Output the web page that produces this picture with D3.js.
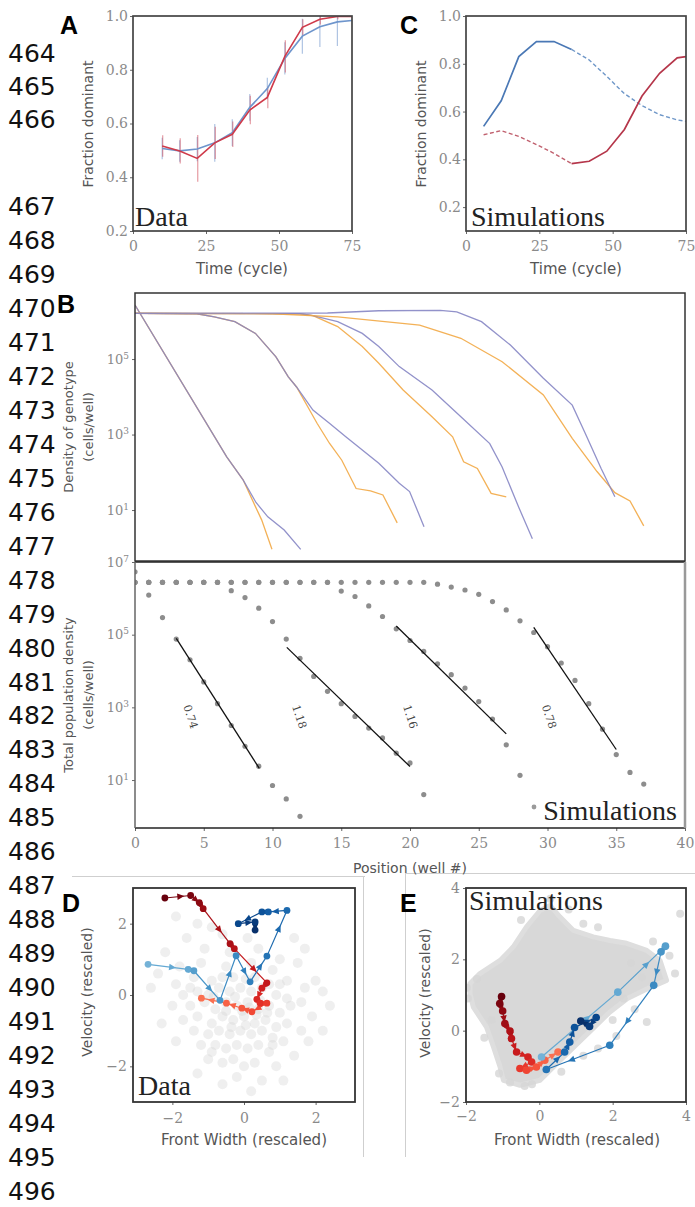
<!DOCTYPE html>
<html><head><meta charset="utf-8">
<script src="https://cdn.jsdelivr.net/npm/d3@7"></script>
<style>body{margin:0;background:#fff}svg{display:block}</style>
</head><body>
<svg id="fig" width="695" height="1207"></svg>
<script>
// ================= DATA =================
const lineNumbers = d3.range(464, 497);

// Panel A (data)
const timeA = [10,16,22,28,34,40,46,52,58,64,70,75];
const redA = [0.516,0.498,0.470,0.528,0.560,0.650,0.697,0.850,0.958,0.988,0.998,0.998];
const redErrA = [0.04,0.047,0.087,0.06,0.047,0.053,0.04,0.06,0.03,0.02,0.01,0];
const blueA = [0.507,0.498,0.505,0.528,0.566,0.660,0.730,0.842,0.925,0.960,0.978,0.983];
const blueErrA = [0.04,0.04,0.045,0.07,0.05,0.05,0.04,0.06,0.065,0.075,0.09,0];

// Panel C (simulations)
const timeC = [6,12,18,24,30,36,42,48,54,60,66,72,75];
const blueC = [0.538,0.645,0.830,0.893,0.893,0.860,0.816,0.747,0.675,0.625,0.587,0.565,0.559];
const redC = [0.503,0.520,0.496,0.462,0.425,0.382,0.392,0.434,0.525,0.665,0.760,0.825,0.830];
const switchTimeC = 36;

const fracTicks = [0.2,0.4,0.6,0.8,1.0];
const timeTicks = [0,25,50,75];

// Panel B top: genotype density profiles, [well position, log10 density]
const purple1 = [[0,6.43],[6.67,2.41],[7.86,1.80],[8.8,1.2],[9.66,0.82],[10.85,0.47],[12.05,-0.04]];
const orange1 = [[0,6.43],[6.67,2.41],[7.86,1.80],[8.76,1.09],[9.21,0.74],[9.96,-0.04]];
const purple2 = [[0,6.21],[4.5,6.2],[5.77,6.12],[7.26,5.99],[8.76,5.68],[10.25,5.06],[11.15,4.53],[11.75,4.26],[12.94,3.65],[14.14,3.30],[15.33,2.94],[17.73,2.24],[19.22,1.71],[19.97,1.49],[21.02,0.56]];
const orange2 = [[0,6.21],[4.5,6.2],[5.77,6.12],[7.26,5.99],[8.76,5.68],[10.25,5.06],[11.15,4.53],[11.75,4.26],[13.24,3.30],[14.14,2.77],[15.04,2.32],[16.08,1.57],[17.13,1.51],[18.03,1.40],[19.07,0.66]];
const purple3 = [[0,6.21],[12.0,6.2],[12.94,6.15],[14.74,5.99],[16.53,5.68],[17.73,5.33],[19.22,4.80],[21.6,4.18],[23.7,3.47],[25.8,2.76],[26.7,2.14],[27.9,1.08],[28.9,0.24]];
const orange3 = [[0,6.21],[12.0,6.2],[12.94,6.15],[14.74,5.86],[16.53,5.33],[17.73,4.89],[19.5,4.18],[21.6,3.47],[23.1,2.94],[23.9,2.28],[24.9,2.10],[25.9,1.44],[27.0,1.35]];
const purple4 = [[0,6.21],[14,6.22],[17.73,6.28],[22.2,6.29],[23.4,6.25],[25.2,5.99],[27.3,5.37],[29.7,4.49],[31.8,3.78],[32.7,3.07],[33.9,2.10],[34.9,1.35]];
const orange4 = [[0,6.21],[10,6.2],[14.74,6.12],[20.7,5.90],[23.7,5.55],[26.7,4.93],[29.7,4.05],[31.8,2.90],[33.6,2.02],[34.9,1.46],[36.0,1.24],[37.0,0.58]];

// Panel B bottom: total density per well (log10), index = well number
const total1 = [6.73,6.09,5.47,4.88,4.31,3.70,3.10,2.50,1.93,1.38,0.85,0.48,0.0];
const total2 = [6.44,6.44,6.44,6.44,6.44,6.44,6.44,6.21,6.02,5.73,5.36,4.88,4.35,3.85,3.44,3.10,2.75,2.43,2.16,1.74,1.47,0.60];
const total3 = [6.44,6.44,6.44,6.44,6.44,6.44,6.44,6.44,6.44,6.44,6.44,6.44,6.44,6.44,6.44,6.20,6.05,5.79,5.50,5.16,4.84,4.54,4.20,3.90,3.53,3.16,2.68,1.97,1.13];
const total4 = [6.44,6.44,6.44,6.44,6.44,6.44,6.44,6.44,6.44,6.44,6.44,6.44,6.44,6.44,6.44,6.44,6.44,6.44,6.44,6.44,6.44,6.44,6.39,6.31,6.23,6.11,5.91,5.68,5.38,5.06,4.67,4.22,3.74,3.10,2.40,1.70,1.21,0.89];
// exponential fits
const fitX0 = [3, 11.04, 19, 29];
const fitL0 = [4.90, 4.65, 5.24, 5.20];
const fitX1 = [9.04, 20, 27, 35];
const fitL1 = [1.32, 1.37, 2.27, 1.84];
const fitLabels = ["0.74","1.18","1.16","0.78"];
const fitLabelX = [4.03, 11.94, 20.0, 30.1];
const fitLabelL = [2.74, 2.74, 2.74, 2.74];
const wellTicks = [0,5,10,15,20,25,30,35,40];
const logTicksTop = [1,3,5];
const logTicksBottom = [1,3,5,7];

// Panel D (data): background cloud + trajectories
const cloudD = [[-1.9,2.2],[-1.3,2.0],[-0.9,1.9],[-1.6,1.6],[-0.6,1.7],[0.1,1.6],[1.4,1.6],[1.7,1.3],[-2.2,1.2],[-1.1,1.3],[-0.4,1.2],[0.4,1.3],[1.0,1.0],[1.5,0.9],[-2.4,0.6],[-1.8,0.8],[-1.2,0.9],[-0.5,0.8],[0.2,0.9],[0.8,0.7],[2.0,0.4],[-2.6,0.2],[-1.9,0.3],[-1.4,0.5],[-0.9,0.4],[-0.3,0.5],[0.3,0.5],[0.7,0.3],[1.2,0.4],[1.7,0.2],[2.2,0.1],
[-1.7,0.0],[-1.3,0.1],[-1.0,0.0],[-0.7,0.2],[-0.4,0.1],[-0.1,0.2],[0.2,0.1],[0.5,0.2],[0.9,0.0],[1.2,-0.1],[1.6,-0.2],[2.4,-0.3],
[-2.0,-0.3],[-1.5,-0.3],[-1.1,-0.2],[-0.8,-0.4],[-0.5,-0.2],[-0.2,-0.3],[0.1,-0.2],[0.4,-0.4],[0.7,-0.3],[1.0,-0.5],[1.3,-0.3],[1.9,-0.6],
[-1.7,-0.7],[-1.3,-0.6],[-0.9,-0.8],[-0.6,-0.6],[-0.3,-0.7],[0.0,-0.6],[0.3,-0.8],[0.6,-0.7],[0.9,-0.9],[1.2,-0.8],[1.6,-1.0],
[-1.4,-1.0],[-1.0,-1.1],[-0.7,-1.0],[-0.4,-1.1],[-0.1,-1.0],[0.2,-1.1],[0.5,-1.0],[0.8,-1.2],[1.1,-1.3],
[-1.2,-1.4],[-0.8,-1.4],[-0.5,-1.5],[-0.2,-1.4],[0.1,-1.5],[0.4,-1.4],[0.7,-1.6],[1.4,-1.7],
[-1.0,-1.8],[-0.6,-1.9],[-0.3,-1.8],[0.0,-2.0],[0.3,-1.9],[0.9,-2.0],[-0.2,-2.3],[0.5,-2.4],[-0.6,-2.5],[0.2,-2.7],[1.1,-2.4],[-1.3,-2.2],[1.8,-1.3],[2.2,-1.0],[-2.3,-0.8],[-1.9,-1.3],
[-0.5,-0.45],[-0.05,-0.45],[0.35,-0.55],[0.15,-0.35],[-0.35,-0.9],[0.05,-0.85],[0.45,-0.15],[-0.85,-0.05],[-0.25,-0.05],[0.65,-0.5],[0.05,0.45],[-0.6,0.5],[1.0,0.3],[-1.5,0.2],[0.8,-1.4],[-0.9,-1.6]];
const trajRedD = [[-2.21,2.72],[-1.49,2.79],[-1.25,2.59],[-1.14,2.42],[-0.39,1.44],[-0.27,1.30],[0.64,0.34],[0.50,0.19],[0.36,-0.12],[0.45,-0.23],[0.64,-0.23],[0.22,-0.47],[-0.06,-0.37],[-0.49,-0.23],[-1.19,-0.09]];
const trajBlueD = [[-2.68,0.86],[-1.56,0.72],[-1.40,0.68],[-0.67,-0.15],[-0.22,1.10],[0.17,0.37],[0.64,1.09],[1.20,2.37],[0.68,2.33],[0.50,2.33],[-0.16,2.0],[0.31,2.05],[0.31,1.82]];
const ticksD = [-2,0,2];

// Panel E (simulations): background cloud outline + outlying points + trajectories
const cloudOutlineE = [[-1.89,1.32],[-1.62,1.6],[-1.07,1.97],[-0.71,2.35],[-0.35,2.91],[0.02,3.37],[0.29,3.51],[0.56,3.19],[0.93,2.81],[1.47,2.63],[1.93,2.53],[2.38,2.45],[2.93,2.25],[3.29,1.97],[3.47,1.41],[3.0,1.2],[2.4,0.9],[1.9,0.5],[1.5,0.1],[1.0,-0.4],[0.5,-0.9],[0.02,-1.39],[-0.53,-1.53],[-0.98,-1.39],[-1.07,-1.02],[-1.25,-0.46],[-1.44,0.1],[-1.8,0.66],[-1.89,1.04]];
const cloudE = [[3.84,3.28],[3.7,1.6],[2.93,0.24],[2.5,1.9],[2.8,1.5],[2.3,0.9],[-1.7,1.45],[-1.3,0.3],[-0.8,-1.45],[-0.2,-1.5],[0.6,-1.15],[1.2,3.0],[0.8,3.4],[-0.5,3.1],[1.6,2.9],[3.1,2.5],[3.55,2.1],[2.1,-0.15],[1.6,-0.5],[-1.95,0.9],[-1.5,-0.2],[-1.1,-1.2],[0.3,3.7],[2.6,0.6],[2.0,0.3],[1.2,-0.7],[-0.4,-1.55],[-1.98,1.2]];
const trajRedE = [[-1.03,0.96],[-1.08,0.76],[-1.0,0.55],[-0.94,0.20],[-0.80,-0.01],[-0.76,-0.22],[-0.62,-0.60],[-0.31,-0.74],[-0.21,-0.88],[-0.53,-1.06],[-0.35,-1.11],[-0.08,-1.02],[0.15,-0.83],[0.51,-0.60]];
const trajBlueE = [[0.06,-0.74],[2.14,1.08],[3.44,2.37],[3.32,2.21],[3.12,1.27],[1.92,-0.41],[0.19,-1.09],[0.69,-0.60],[0.83,-0.32],[0.96,0.09],[1.55,0.37],[1.37,0.12],[1.13,0.27]];
const ticksE = [-2,0,2,4];

// ================= DRAWING =================
const svg = d3.select("#fig");
svg.append("rect").attr("width",695).attr("height",1207).attr("fill","#fff");
const SERIF_TICK = "DejaVu Serif", SANS = "DejaVu Sans";
const TICKCOL = "#8a8a8a", LABCOL = "#555";

// line numbers
const lnEarly = d3.scaleLinear().domain([464,466]).range([62,128]);
const lnLate = d3.scaleLinear().domain([467,496]).range([215,1200]);
svg.append("g").selectAll("text").data(lineNumbers).join("text")
  .attr("x",8).attr("y",d => d < 467 ? lnEarly(d) : lnLate(d))
  .attr("font-family",SANS).attr("font-size",25).attr("fill","#111").text(d => d);

// faint separator lines of the figure
const sep = svg.append("g").attr("stroke","#cfcfcf").attr("stroke-width",1).attr("fill","none");
sep.append("line").attr("x1",72).attr("x2",365).attr("y1",876.5).attr("y2",876.5);
sep.append("line").attr("x1",363.5).attr("x2",363.5).attr("y1",876).attr("y2",1157);
sep.append("line").attr("x1",405).attr("x2",695).attr("y1",873.5).attr("y2",873.5);
sep.append("line").attr("x1",405.5).attr("x2",405.5).attr("y1",873).attr("y2",1157);

function panelLetter(t,x,y){
  svg.append("text").attr("x",x).attr("y",y).text(t)
    .attr("font-family","Liberation Sans").attr("font-weight","bold").attr("font-size",25).attr("fill","#000");
}
function styleAxis(g, size){
  g.select(".domain").remove();
  g.selectAll(".tick line").attr("stroke","#666");
  g.selectAll(".tick text").attr("font-family",SERIF_TICK).attr("font-size",size||14).attr("fill",TICKCOL);
}
function frame(x0,x1,y0,y1,col,w){
  svg.append("rect").attr("x",x0).attr("y",y0).attr("width",x1-x0).attr("height",y1-y0)
    .attr("fill","none").attr("stroke",col||"#444").attr("stroke-width",w||1.7);
}
function vLabel(t,x,y,size){
  svg.append("text").attr("transform",`translate(${x},${y}) rotate(-90)`).attr("text-anchor","middle")
    .attr("dominant-baseline","central").attr("font-family",SANS).attr("font-size",size||14).attr("fill",LABCOL).text(t);
}
function hLabel(t,x,y,size){
  svg.append("text").attr("x",x).attr("y",y).attr("text-anchor","middle")
    .attr("font-family",SANS).attr("font-size",size||15).attr("fill",LABCOL).text(t);
}
function serifNote(t,x,y,anchor){
  svg.append("text").attr("x",x).attr("y",y).attr("text-anchor",anchor||"start")
    .attr("font-family","Liberation Serif").attr("font-size",28).attr("fill","#222").text(t);
}
let clipId = 0;
function clip(x0,x1,y0,y1){
  const id = "clip"+(clipId++);
  svg.append("clipPath").attr("id",id).append("rect").attr("x",x0).attr("y",y0).attr("width",x1-x0).attr("height",y1-y0);
  return svg.append("g").attr("clip-path",`url(#${id})`);
}

// ---------- Panel A ----------
{
  const x = d3.scaleLinear().domain([0,75]).range([133,352]);
  const y = d3.scaleLinear().domain([0.2,1.0]).range([231,16]);
  const g = clip(133,352,16,231);
  const redCol = "#cf3a4a", blueCol = "#6e95cc";
  const line = d3.line().x(d=>x(d[0])).y(d=>y(d[1]));
  timeA.forEach((t,i)=>{
    if (blueErrA[i]>0) g.append("line").attr("x1",x(t)).attr("x2",x(t)).attr("y1",y(blueA[i]-blueErrA[i])).attr("y2",y(blueA[i]+blueErrA[i]))
      .attr("stroke",blueCol).attr("stroke-width",1.2).attr("opacity",0.55);
    if (redErrA[i]>0) g.append("line").attr("x1",x(t)+0.5).attr("x2",x(t)+0.5).attr("y1",y(redA[i]-redErrA[i])).attr("y2",y(redA[i]+redErrA[i]))
      .attr("stroke",redCol).attr("stroke-width",1.2).attr("opacity",0.5);
  });
  g.append("path").attr("d",line(timeA.map((t,i)=>[t,blueA[i]]))).attr("fill","none").attr("stroke",blueCol).attr("stroke-width",1.6);
  g.append("path").attr("d",line(timeA.map((t,i)=>[t,redA[i]]))).attr("fill","none").attr("stroke",redCol).attr("stroke-width",1.6);
  styleAxis(svg.append("g").attr("transform","translate(133,0)").call(d3.axisLeft(y).tickValues(fracTicks).tickFormat(d3.format(".1f")).tickSize(3).tickPadding(2)));
  styleAxis(svg.append("g").attr("transform","translate(0,231)").call(d3.axisBottom(x).tickValues(timeTicks).tickSize(3).tickPadding(7)));
  frame(133,352,16,231);
  vLabel("Fraction dominant",88,124);
  hLabel("Time (cycle)",242,274);
  serifNote("Data",135,226);
  panelLetter("A",60,34);
}

// ---------- Panel C ----------
{
  const x = d3.scaleLinear().domain([0,75]).range([466,686]);
  const y = d3.scaleLinear().domain([0.1,1.0]).range([231,16]);
  const g = clip(466,686,16,231);
  const blueCol = "#4a78b5", redCol = "#b5364a";
  const line = d3.line().x(d=>x(d[0])).y(d=>y(d[1]));
  const blue = timeC.map((t,i)=>[t,blueC[i]]), red = timeC.map((t,i)=>[t,redC[i]]);
  g.append("path").attr("d",line(blue.filter(d=>d[0]<=switchTimeC))).attr("fill","none").attr("stroke",blueCol).attr("stroke-width",1.7);
  g.append("path").attr("d",line(blue.filter(d=>d[0]>=switchTimeC))).attr("fill","none").attr("stroke","#6f97c8").attr("stroke-width",1.4).attr("stroke-dasharray","4,2.5");
  g.append("path").attr("d",line(red.filter(d=>d[0]<=switchTimeC))).attr("fill","none").attr("stroke","#c0606e").attr("stroke-width",1.4).attr("stroke-dasharray","4,2.5");
  g.append("path").attr("d",line(red.filter(d=>d[0]>=switchTimeC))).attr("fill","none").attr("stroke",redCol).attr("stroke-width",1.7);
  styleAxis(svg.append("g").attr("transform","translate(466,0)").call(d3.axisLeft(y).tickValues(fracTicks).tickFormat(d3.format(".1f")).tickSize(3).tickPadding(2)));
  styleAxis(svg.append("g").attr("transform","translate(0,231)").call(d3.axisBottom(x).tickValues(timeTicks).tickSize(3).tickPadding(7)));
  frame(466,686,16,231);
  vLabel("Fraction dominant",421,124);
  hLabel("Time (cycle)",576,274);
  serifNote("Simulations",471,226);
  panelLetter("C",400,34);
}

function logTickText(axisG){
  axisG.selectAll(".tick text").each(function(d){
    const t = d3.select(this); t.text("");
    t.append("tspan").text("10");
    t.append("tspan").attr("dy","-0.55em").attr("font-size",9).text(Math.round(Math.log10(d)));
  });
}

// ---------- Panel B (top) ----------
const xB = d3.scaleLinear().domain([0,40]).range([135,685]);
{
  const y = d3.scaleLog().domain([Math.pow(10,-0.35),Math.pow(10,6.75)]).range([561,293]);
  const g = clip(135,685,293,561);
  const line = d3.line().x(d=>xB(d[0])).y(d=>y(Math.pow(10,d[1])));
  const purple = "#8686c4", orange = "#f2a945";
  [[orange1,orange],[purple1,purple],[orange2,orange],[purple2,purple],[orange3,orange],[purple3,purple],[orange4,orange],[purple4,purple]]
    .forEach(([d,c])=> g.append("path").attr("d",line(d)).attr("fill","none").attr("stroke",c).attr("stroke-width",1.3).attr("opacity",0.9));
  const ax = svg.append("g").attr("transform","translate(135,0)").call(d3.axisLeft(y).tickValues(logTicksTop.map(v=>Math.pow(10,v))).tickSize(3).tickPadding(3));
  styleAxis(ax,13); logTickText(ax);
  frame(135,685,293,561,"#333",1.5);
  vLabel("Density of genotype",68,427,13);
  vLabel("(cells/well)",88,427,13);
  panelLetter("B",57,313);
}

// ---------- Panel B (bottom) ----------
{
  const y = d3.scaleLog().domain([Math.pow(10,-0.32),1e7]).range([828,562]);
  const g = clip(135,686,562,828);
  const pts = [];
  [total1,total2,total3,total4].forEach(s => s.forEach((v,i)=>pts.push([i,v])));
  g.selectAll("circle.pt").data(pts).join("circle").attr("class","pt")
    .attr("cx",d=>xB(d[0])).attr("cy",d=>y(Math.pow(10,d[1]))).attr("r",2.6).attr("fill","#8d8d8d");
  fitX0.forEach((x0,i)=>{
    g.append("line").attr("x1",xB(x0)).attr("y1",y(Math.pow(10,fitL0[i])))
      .attr("x2",xB(fitX1[i])).attr("y2",y(Math.pow(10,fitL1[i]))).attr("stroke","#111").attr("stroke-width",1.3);
    svg.append("text").attr("transform",`translate(${xB(fitLabelX[i])},${y(Math.pow(10,fitLabelL[i]))}) rotate(72)`)
      .attr("text-anchor","middle").attr("dominant-baseline","central")
      .attr("font-family",SERIF_TICK).attr("font-size",11).attr("fill","#444").text(fitLabels[i]);
  });
  const ax = svg.append("g").attr("transform","translate(135,0)").call(d3.axisLeft(y).tickValues(logTicksBottom.map(v=>Math.pow(10,v))).tickSize(3).tickPadding(3));
  styleAxis(ax,13); logTickText(ax);
  styleAxis(svg.append("g").attr("transform","translate(0,828)").call(d3.axisBottom(xB).tickValues(wellTicks).tickSize(3).tickPadding(7)));
  svg.append("line").attr("x1",135).attr("x2",685).attr("y1",562).attr("y2",562).attr("stroke","#222").attr("stroke-width",1.5);
  svg.append("line").attr("x1",135).attr("x2",685).attr("y1",828).attr("y2",828).attr("stroke","#222").attr("stroke-width",1.5);
  svg.append("line").attr("x1",135).attr("x2",135).attr("y1",562).attr("y2",828).attr("stroke","#666").attr("stroke-width",1.5);
  svg.append("line").attr("x1",685).attr("x2",685).attr("y1",562).attr("y2",828).attr("stroke","#999").attr("stroke-width",2.5);
  vLabel("Total population density",68,695,13);
  vLabel("(cells/well)",88,695,13);
  hLabel("Position (well #)",410,873,14);
  svg.append("circle").attr("cx",534).attr("cy",807).attr("r",2.4).attr("fill","#9a9a9a");
  serifNote("Simulations",677,820,"end");
}

function trajectory(g, x, y, pts, colorAt, r){
  const n = pts.length;
  for (let i=1;i<n;i++){
    const a = pts[i-1], b = pts[i], c = colorAt((i)/(n-1));
    const x1=x(a[0]),y1=y(a[1]),x2=x(b[0]),y2=y(b[1]);
    g.append("line").attr("x1",x1).attr("y1",y1).attr("x2",x2).attr("y2",y2).attr("stroke",c).attr("stroke-width",1.2);
    const ang = Math.atan2(y2-y1,x2-x1)*180/Math.PI;
    const mx = x1+(x2-x1)*0.6, my = y1+(y2-y1)*0.6;
    g.append("path").attr("d","M4,0L-3,-3.2L-3,3.2Z").attr("fill",c)
      .attr("transform",`translate(${mx},${my}) rotate(${ang})`);
  }
  pts.forEach((p,i)=> g.append("circle").attr("cx",x(p[0])).attr("cy",y(p[1])).attr("r",r).attr("fill",colorAt(i/(n-1))));
}
const redAt = t => d3.interpolateReds(1.0 - 0.52*t);
const blueAt = t => d3.interpolateBlues(0.48 + 0.52*t);

// ---------- Panel D ----------
{
  const x = d3.scaleLinear().domain([-3.1,3.1]).range([133,355]);
  const y = d3.scaleLinear().domain([-3,3]).range([1102,888]);
  const g = clip(133,355,888,1102);
  g.selectAll("circle.bg").data(cloudD).join("circle").attr("class","bg")
    .attr("cx",d=>x(d[0])).attr("cy",d=>y(d[1])).attr("r",5).attr("fill","#d8d8d8").attr("opacity",0.4);
  trajectory(g,x,y,trajRedD,redAt,3.4);
  trajectory(g,x,y,trajBlueD,blueAt,3.4);
  styleAxis(svg.append("g").attr("transform","translate(133,0)").call(d3.axisLeft(y).tickValues(ticksD).tickFormat(d=>d3.format("d")(d).replace("-","−")).tickSize(3).tickPadding(3)));
  styleAxis(svg.append("g").attr("transform","translate(0,1102)").call(d3.axisBottom(x).tickValues(ticksD).tickFormat(d=>d3.format("d")(d).replace("-","−")).tickSize(3).tickPadding(8)));
  frame(133,355,888,1102,"#333",1.8);
  vLabel("Velocity (rescaled)",87,992);
  hLabel("Front Width (rescaled)",244,1145);
  serifNote("Data",138,1095);
  panelLetter("D",62,912);
}

// ---------- Panel E ----------
{
  const x = d3.scaleLinear().domain([-2,4]).range([466,686]);
  const y = d3.scaleLinear().domain([-2,4]).range([1102,888]);
  const g = clip(466,686,888,1102);
  g.append("path").attr("d",d3.line().x(d=>x(d[0])).y(d=>y(d[1])).curve(d3.curveLinearClosed)(cloudOutlineE))
    .attr("fill","#d8d8d8").attr("stroke","#dedede").attr("stroke-width",5).attr("stroke-linejoin","round");
  g.selectAll("circle.bg").data(cloudE).join("circle").attr("class","bg")
    .attr("cx",d=>x(d[0])).attr("cy",d=>y(d[1])).attr("r",4).attr("fill","#d6d6d6").attr("opacity",0.8);
  trajectory(g,x,y,trajRedE,redAt,3.8);
  trajectory(g,x,y,trajBlueE,blueAt,3.8);
  styleAxis(svg.append("g").attr("transform","translate(466,0)").call(d3.axisLeft(y).tickValues(ticksE).tickFormat(d=>d3.format("d")(d).replace("-","−")).tickSize(3).tickPadding(3)));
  styleAxis(svg.append("g").attr("transform","translate(0,1102)").call(d3.axisBottom(x).tickValues(ticksE).tickFormat(d=>d3.format("d")(d).replace("-","−")).tickSize(3).tickPadding(6)));
  frame(466,686,888,1102,"#333",1.8);
  vLabel("Velocity (rescaled)",425,993);
  hLabel("Front Width (rescaled)",577,1145);
  serifNote("Simulations",469,910);
  panelLetter("E",400,912);
}
</script>
</body></html>
